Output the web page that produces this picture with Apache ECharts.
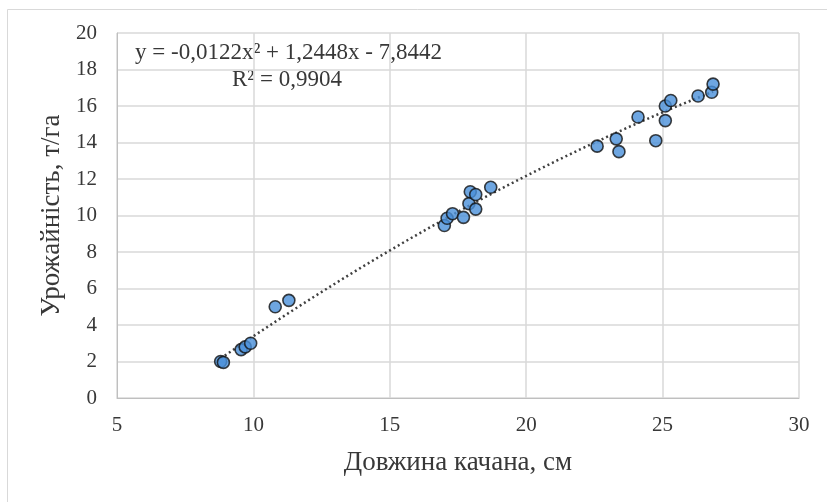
<!DOCTYPE html>
<html>
<head>
<meta charset="utf-8">
<script src="https://cdn.jsdelivr.net/npm/echarts@6/dist/echarts.min.js"></script>
<style>
html,body{margin:0;padding:0;background:#fff;}
#chart{width:827px;height:502px;}
</style>
</head>
<body>
<div id="chart"></div>
<script>
// Ear length, cm
const earLength = [8.8, 8.9, 9.55, 9.7, 9.9, 10.8, 11.3,
  17.0, 17.1, 17.3, 17.7, 17.9, 17.95, 18.15, 18.15, 18.7,
  22.6, 23.3, 23.4, 24.1, 24.75, 25.1, 25.1, 25.3, 26.3, 26.8, 26.85];
// Yield, t/ha
const yieldValues = [2.0, 1.95, 2.65, 2.8, 3.0, 5.0, 5.35,
  9.45, 9.85, 10.1, 9.9, 10.65, 11.3, 11.15, 10.35, 11.55,
  13.8, 14.2, 13.5, 15.4, 14.1, 16.0, 15.2, 16.3, 16.55, 16.75, 17.2];
// Trendline coefficients shown on the chart: a*x^2 + b*x + c
const trendCoef = [-0.0122, 1.2448, -7.8442];
const xTicks = [5, 10, 15, 20, 25, 30];
const yTicks = [0, 2, 4, 6, 8, 10, 12, 14, 16, 18, 20];
const equationText = 'y = -0,0122x² + 1,2448x - 7,8442';
const r2Text = 'R² = 0,9904';

const points = earLength.map((x, i) => [x, yieldValues[i]]);
const xMin = Math.min(...earLength), xMax = Math.max(...earLength);
const trend = [];
for (let k = 0; k <= 60; k++) {
  const x = xMin + (xMax - xMin) * k / 60;
  trend.push([x, trendCoef[0] * x * x + trendCoef[1] * x + trendCoef[2]]);
}

const font = 'Liberation Serif';
const txt = '#383838';
const chart = echarts.init(document.getElementById('chart'));
chart.setOption({
  backgroundColor: '#fff',
  animation: false,
  grid: {left: 117, right: 28, top: 33, bottom: 104},
  xAxis: {
    type: 'value', min: xTicks[0], max: xTicks[xTicks.length - 1], interval: 5,
    name: 'Довжина качана, см', nameLocation: 'middle', nameGap: 51,
    nameTextStyle: {fontFamily: font, fontSize: 27, color: txt},
    axisLine: {show: true, lineStyle: {color: '#bfbfbf', width: 1}},
    axisTick: {show: false},
    axisLabel: {fontFamily: font, fontSize: 21, color: txt, margin: 17},
    splitLine: {show: true, lineStyle: {color: '#d9d9d9', width: 1.5}}
  },
  yAxis: {
    type: 'value', min: yTicks[0], max: yTicks[yTicks.length - 1], interval: 2,
    name: 'Урожайність, т/га', nameLocation: 'middle', nameGap: 48,
    nameTextStyle: {fontFamily: font, fontSize: 27, color: txt},
    axisLine: {show: true, lineStyle: {color: '#bfbfbf', width: 1}},
    axisTick: {show: false},
    axisLabel: {fontFamily: font, fontSize: 21, color: txt, margin: 20},
    splitLine: {show: true, lineStyle: {color: '#d9d9d9', width: 1.5}}
  },
  graphic: [
    {type: 'rect', left: 5, top: 7, shape: {width: 840, height: 520}, style: {fill: 'none', stroke: '#d9d9d9', lineWidth: 1}, silent: true, z: -1},
    {type: 'text', left: 135, top: 41, style: {text: equationText, font: '23px "Liberation Serif"', fill: txt}},
    {type: 'text', left: 232, top: 68, style: {text: r2Text, font: '23px "Liberation Serif"', fill: txt}}
  ],
  series: [
    {
      type: 'line', data: trend, showSymbol: false, symbol: 'none',
      lineStyle: {color: '#404040', width: 2.5, type: [2, 3]}, z: 3
    },
    {
      type: 'scatter', data: points, symbol: 'circle', symbolSize: 12,
      itemStyle: {color: '#4a90d9', borderColor: '#111', borderWidth: 1.6}, z: 4
    }
  ]
});
</script>
</body>
</html>
